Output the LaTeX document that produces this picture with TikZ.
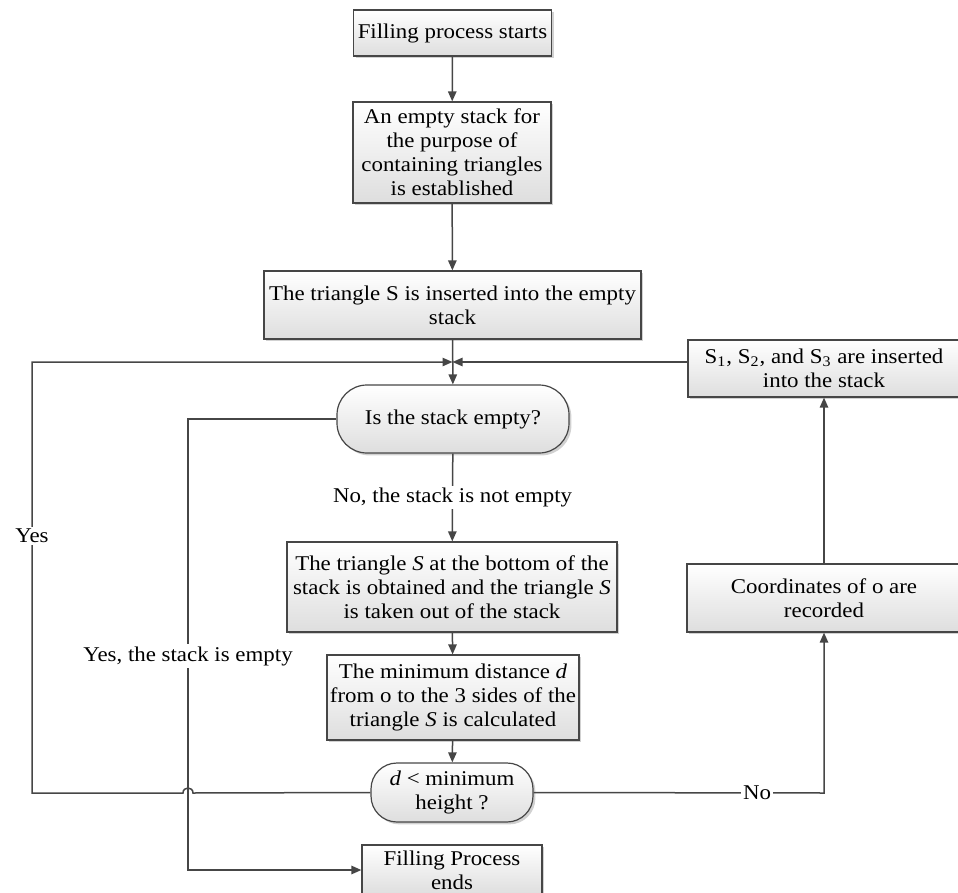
\documentclass[tikz,border=0pt]{standalone}
\usepackage{fontspec}
\setmainfont{Liberation Serif}[FakeStretch=1.09]
\usetikzlibrary{arrows.meta,shadows}
\definecolor{ln}{HTML}{464646}
\begin{document}
\begin{tikzpicture}[x=0.5pt,y=-0.5pt,
  font=\fontsize{10.5}{12}\selectfont,
  box/.style={draw=ln, line width=0.6pt, top color=white, bottom color=black!13,
    drop shadow={shadow xshift=1.2pt,shadow yshift=-1.2pt,fill=black!18,opacity=1},
    inner sep=0pt, align=center},
  conn/.style={draw=ln, line width=0.75pt},
  arr/.style={conn, -{Triangle[length=5pt,width=4.2pt]}},
  lbl/.style={fill=white, inner sep=1pt}]
\useasboundingbox (0,0) rectangle (958,893);
\clip (0,0) rectangle (958,893);

\node[box, minimum width=99pt, minimum height=23pt] (start) at (452.5,33) {Filling process starts};
\node[box, minimum width=99pt, minimum height=50.5pt] (stack) at (452,152.5) {An empty stack for\\the purpose of\\containing triangles\\is established};
\node[box, minimum width=188.5pt, minimum height=34pt] (insS) at (452.5,305) {The triangle S is inserted into the empty\\stack};
\node[box, rounded corners=15pt, minimum width=116pt, minimum height=34pt] (dec1) at (453,419) {Is the stack empty?};
\node[box, minimum width=165pt, minimum height=45pt] (take) at (452,587) {The triangle \textit{S} at the bottom of the\\stack is obtained and the triangle \textit{S}\\is taken out of the stack};
\node[box, minimum width=126pt, minimum height=42.5pt] (mind) at (453,697.5) {The minimum distance \textit{d}\\from o to the 3 sides of the\\triangle \textit{S} is calculated};
\node[box, rounded corners=13pt, minimum width=81pt, minimum height=29.5pt] (dec2) at (452,792.5) {\textit{d} < minimum\\height ?};
\node[box, minimum width=90pt, minimum height=25pt] (end) at (452,870) {Filling Process\\ends};
\node[box, minimum width=136pt, minimum height=28.5pt] (s123) at (824,368.5) {S\textsubscript{1}, S\textsubscript{2}, and S\textsubscript{3} are inserted\\into the stack};
\node[box, minimum width=137pt, minimum height=34pt] (coords) at (824,598) {Coordinates of o are\\recorded};

\coordinate (J) at (452.5,362);
\coordinate (yl) at (188,419);

\draw[arr] (start) -- (stack);
\draw[arr] (stack) -- (insS);
\draw[arr] (insS) -- (dec1);
\draw[arr] (s123.west |- J) -- (J);
\draw[arr] (dec2.west) -- (193,793) .. controls (193,786.3) and (183,786.3) .. (183,793) -- (32,793) -- (32,362) -- (J);
\draw[arr] (dec1.west) -- (yl) -- (yl |- end.west) -- (end.west);
\draw[arr] (dec1) -- node[lbl] {No, the stack is not empty} (take);
\draw[arr] (take) -- (mind);
\draw[arr] (mind) -- (dec2);
\draw[arr] (dec2.east) -- (824,793) -- (coords.south);
\draw[arr] (coords) -- (s123);

\node[lbl] (yes) at (32,536) {Yes};
\node[lbl] (yesempty) at (188,656) {Yes, the stack is empty};
\node[lbl] (no) at (757,793) {No};
\end{tikzpicture}
\end{document}
